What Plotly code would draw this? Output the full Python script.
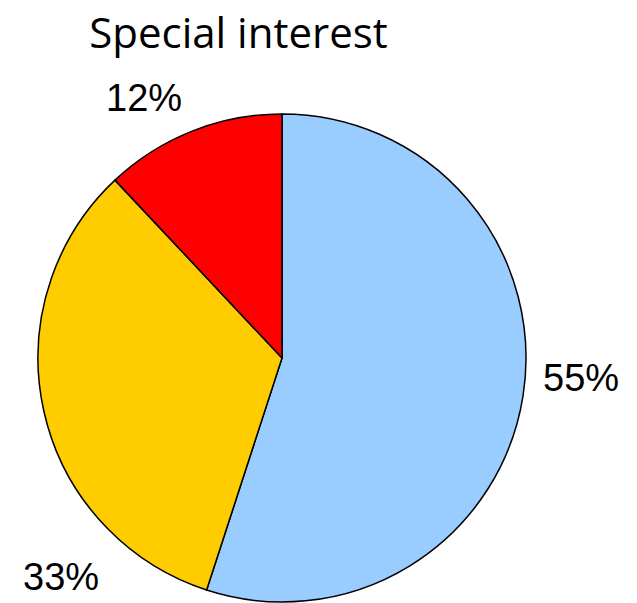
import plotly.graph_objects as go

labels = ["Blue", "Yellow", "Red"]
values = [55, 33, 12]
text_labels = ["55%", "33%", "12%"]
colors = ["#99CCFF", "#FFCC00", "#FF0000"]

# label placement (pixels from top-left), layout only
label_px = [(580.5, 378), (61.5, 577), (144, 98)]

W, H = 637, 603
cx, cy, r = 282, 358, 244

fig = go.Figure(go.Pie(
    labels=labels,
    values=values,
    textinfo="none",
    sort=False,
    direction="clockwise",
    rotation=0,
    marker=dict(colors=colors, line=dict(color="#000000", width=1.5)),
    domain=dict(x=[(cx - r) / W, (cx + r) / W], y=[(H - cy - r) / H, (H - cy + r) / H]),
    showlegend=False,
    hoverinfo="skip",
))

for t, (px, py) in zip(text_labels, label_px):
    fig.add_annotation(
        text=t, x=px / W, y=1 - py / H, xref="paper", yref="paper",
        xanchor="center", yanchor="middle", showarrow=False,
        font=dict(family="Liberation Sans, Arial, sans-serif", size=38, color="#000000"),
    )

fig.update_layout(
    width=W, height=H,
    margin=dict(l=0, r=0, t=0, b=0),
    paper_bgcolor="white",
    plot_bgcolor="white",
    title=dict(text="Special interest", x=238.5 / W, xanchor="center", y=1 - 33 / H, yanchor="middle",
               font=dict(family="Open Sans, sans-serif", size=42, color="#000000")),
)

fig.write_html("out.html", config={"displayModeBar": False},
               post_script="document.body.style.margin='0';")
